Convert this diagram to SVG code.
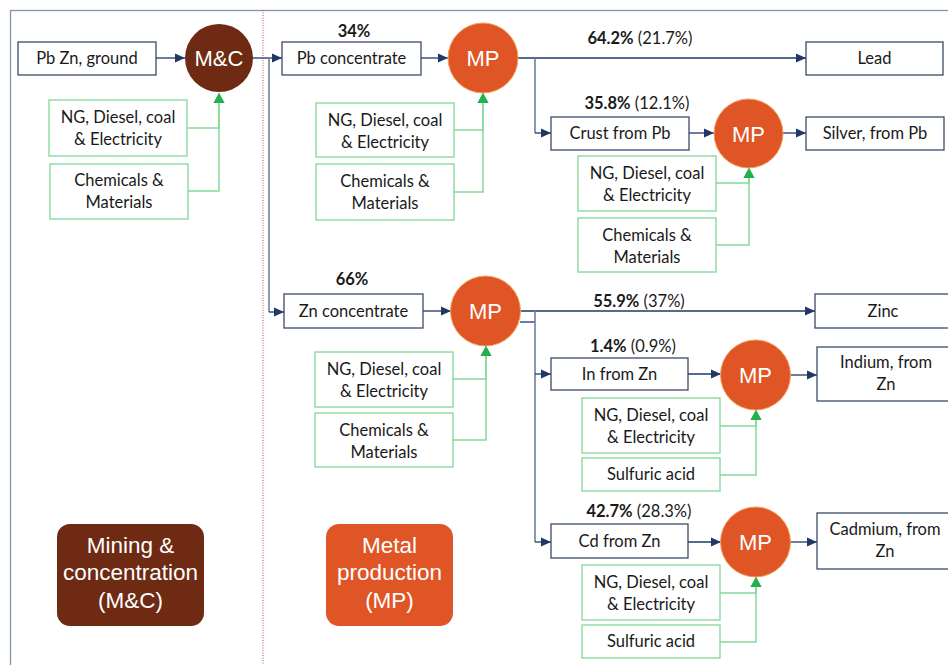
<svg xmlns="http://www.w3.org/2000/svg" width="948" height="665" viewBox="0 0 948 665">
<defs>
<marker id="an" markerUnits="userSpaceOnUse" markerWidth="11" markerHeight="10" refX="10" refY="5" orient="auto"><path d="M0,0.5 L10,5 L0,9.5 z" fill="#1f3864"/></marker>
<marker id="ag" markerUnits="userSpaceOnUse" markerWidth="11" markerHeight="12" refX="10" refY="6" orient="auto"><path d="M0,0.5 L10,6 L0,11.5 z" fill="#22b14c"/></marker>
<style>
.box{fill:#fff;stroke:#3a4a6b;stroke-width:1.3}
.gbox{fill:#fff;stroke:#82d696;stroke-width:1.3}
.t{font-family:Lato,"Open Sans",sans-serif;font-size:16.5px;fill:#1a1a1a;text-anchor:middle}
.b{font-weight:bold}
.ct{font-family:"Liberation Sans",Arial,sans-serif;font-size:22px;fill:#fff;text-anchor:middle}
.lt{font-family:"Liberation Sans",Arial,sans-serif;font-size:22.5px;fill:#fff;text-anchor:middle}
.mc{fill:#6e2a12}
.mp{fill:#e05526;stroke:#f3a15f;stroke-width:1}
.c{stroke:#1f3864;stroke-width:1.3;fill:none}
.cv{stroke:#6f82a3;stroke-width:1.6;fill:none}
.cg{stroke:#86d999;stroke-width:1.5;fill:none}
</style>
</defs>
<rect x="10.5" y="10.5" width="980" height="700" fill="none" stroke="#8497b0" stroke-width="1.3"/>
<line x1="263" y1="10" x2="263" y2="665" stroke="#c0504d" stroke-width="1" stroke-dasharray="1,1.5"/>

<g id="connectors">
<path class="c" d="M156,58 H185" marker-end="url(#an)"/>
<path class="c" d="M253,58 H282" marker-end="url(#an)"/>
<path class="cv" d="M269,58 V312"/>
<path class="c" d="M269,312 H284" marker-end="url(#an)"/>
<path class="c" d="M421,58 H448" marker-end="url(#an)"/>
<path class="c" d="M518,58 H806" marker-end="url(#an)"/>
<path class="cv" d="M535,58 V133"/>
<path class="c" d="M535,133 H551" marker-end="url(#an)"/>
<path class="c" d="M689,133 H714" marker-end="url(#an)"/>
<path class="c" d="M783,133 H806" marker-end="url(#an)"/>
<path class="c" d="M423,311 H451" marker-end="url(#an)"/>
<path class="c" d="M520,311 H815" marker-end="url(#an)"/>
<path class="c" d="M520,322 H535"/>
<path class="cv" d="M535,311 V542"/>
<path class="c" d="M535,374 H551" marker-end="url(#an)"/>
<path class="c" d="M535,542 H551" marker-end="url(#an)"/>
<path class="c" d="M688,374 H721" marker-end="url(#an)"/>
<path class="c" d="M790,375 H817" marker-end="url(#an)"/>
<path class="c" d="M688,542 H721" marker-end="url(#an)"/>
<path class="c" d="M790,542 H817" marker-end="url(#an)"/>
<path class="cg" d="M187,128 H219 V93" marker-end="url(#ag)"/>
<path class="cg" d="M188,191 H219 V93" marker-end="url(#ag)"/>
<path class="cg" d="M454,130 H483 V93" marker-end="url(#ag)"/>
<path class="cg" d="M454,192 H483 V93" marker-end="url(#ag)"/>
<path class="cg" d="M716,183 H749 V168" marker-end="url(#ag)"/>
<path class="cg" d="M716,245 H749 V168" marker-end="url(#ag)"/>
<path class="cg" d="M453,379 H486 V346" marker-end="url(#ag)"/>
<path class="cg" d="M453,440 H486 V346" marker-end="url(#ag)"/>
<path class="cg" d="M720,426 H756 V410" marker-end="url(#ag)"/>
<path class="cg" d="M720,475 H756 V410" marker-end="url(#ag)"/>
<path class="cg" d="M720,593 H756 V577" marker-end="url(#ag)"/>
<path class="cg" d="M720,642 H756 V577" marker-end="url(#ag)"/>
</g>

<g id="labels">
<text class="t b" x="354" y="37">34%</text>
<text class="t" x="640" y="44"><tspan class="b">64.2%</tspan> (21.7%)</text>
<text class="t" x="637" y="109"><tspan class="b">35.8%</tspan> (12.1%)</text>
<text class="t b" x="352" y="285">66%</text>
<text class="t" x="639" y="307"><tspan class="b">55.9%</tspan> (37%)</text>
<text class="t" x="633" y="352"><tspan class="b">1.4%</tspan> (0.9%)</text>
<text class="t" x="639" y="517"><tspan class="b">42.7%</tspan> (28.3%)</text>
</g>

<g id="pbzn_ground"><rect class="box" x="18" y="42" width="138" height="33"/><text class="t" x="87" y="64">Pb Zn, ground</text></g>
<g id="mc"><circle class="mc" cx="219" cy="58" r="34"/><text class="ct" x="219" y="66">M&amp;C</text></g>
<g id="mc_energy"><rect class="gbox" x="49" y="100" width="138" height="56"/><text class="t" x="118" y="123">NG, Diesel, coal</text><text class="t" x="118" y="145">&amp; Electricity</text></g>
<g id="mc_chem"><rect class="gbox" x="50" y="164" width="138" height="55"/><text class="t" x="119" y="186">Chemicals &amp;</text><text class="t" x="119" y="208">Materials</text></g>

<g id="pb_conc"><rect class="box" x="282" y="42" width="139" height="33"/><text class="t" x="351.5" y="64">Pb concentrate</text></g>
<g id="mp1"><circle class="mp" cx="483" cy="58" r="35"/><text class="ct" x="483" y="66">MP</text></g>
<g id="mp1_energy"><rect class="gbox" x="316" y="103" width="138" height="54"/><text class="t" x="385" y="126">NG, Diesel, coal</text><text class="t" x="385" y="148">&amp; Electricity</text></g>
<g id="mp1_chem"><rect class="gbox" x="316" y="164" width="138" height="56"/><text class="t" x="385" y="187">Chemicals &amp;</text><text class="t" x="385" y="209">Materials</text></g>
<g id="lead"><rect class="box" x="806" y="42" width="137" height="33"/><text class="t" x="874.5" y="64">Lead</text></g>
<g id="crust"><rect class="box" x="551" y="117" width="138" height="33"/><text class="t" x="620" y="139">Crust from Pb</text></g>
<g id="mp2"><circle class="mp" cx="748.5" cy="133.5" r="34.5"/><text class="ct" x="748.5" y="141.5">MP</text></g>
<g id="mp2_energy"><rect class="gbox" x="578" y="156" width="138" height="55"/><text class="t" x="647" y="179">NG, Diesel, coal</text><text class="t" x="647" y="201">&amp; Electricity</text></g>
<g id="mp2_chem"><rect class="gbox" x="578" y="218" width="138" height="54"/><text class="t" x="647" y="241">Chemicals &amp;</text><text class="t" x="647" y="263">Materials</text></g>
<g id="silver"><rect class="box" x="806" y="117" width="138" height="33"/><text class="t" x="875" y="139">Silver, from Pb</text></g>

<g id="zn_conc"><rect class="box" x="284" y="294" width="139" height="34"/><text class="t" x="353.5" y="317">Zn concentrate</text></g>
<g id="mp3"><circle class="mp" cx="485.5" cy="311" r="35"/><text class="ct" x="485.5" y="319">MP</text></g>
<g id="mp3_energy"><rect class="gbox" x="315" y="352" width="138" height="55"/><text class="t" x="384" y="375">NG, Diesel, coal</text><text class="t" x="384" y="397">&amp; Electricity</text></g>
<g id="mp3_chem"><rect class="gbox" x="315" y="413" width="138" height="54"/><text class="t" x="384" y="436">Chemicals &amp;</text><text class="t" x="384" y="458">Materials</text></g>
<g id="zinc"><rect class="box" x="815" y="294" width="150" height="34"/><text class="t" x="883" y="317">Zinc</text></g>
<g id="in_zn"><rect class="box" x="551" y="358" width="137" height="32"/><text class="t" x="619.5" y="380">In from Zn</text></g>
<g id="mp4"><circle class="mp" cx="755.5" cy="375" r="35"/><text class="ct" x="755.5" y="383">MP</text></g>
<g id="mp4_energy"><rect class="gbox" x="582" y="398" width="138" height="55"/><text class="t" x="651" y="421">NG, Diesel, coal</text><text class="t" x="651" y="443">&amp; Electricity</text></g>
<g id="mp4_acid"><rect class="gbox" x="582" y="458" width="138" height="33"/><text class="t" x="651" y="480">Sulfuric acid</text></g>
<g id="indium"><rect class="box" x="817" y="347" width="150" height="54"/><text class="t" x="886" y="368">Indium, from</text><text class="t" x="886" y="390">Zn</text></g>
<g id="cd_zn"><rect class="box" x="551" y="524" width="137" height="34"/><text class="t" x="619.5" y="547">Cd from Zn</text></g>
<g id="mp5"><circle class="mp" cx="755.5" cy="542" r="35"/><text class="ct" x="755.5" y="550">MP</text></g>
<g id="mp5_energy"><rect class="gbox" x="582" y="565" width="138" height="55"/><text class="t" x="651" y="588">NG, Diesel, coal</text><text class="t" x="651" y="610">&amp; Electricity</text></g>
<g id="mp5_acid"><rect class="gbox" x="582" y="625" width="138" height="33"/><text class="t" x="651" y="647">Sulfuric acid</text></g>
<g id="cadmium"><rect class="box" x="817" y="513" width="150" height="56"/><text class="t" x="885" y="535">Cadmium, from</text><text class="t" x="885" y="557">Zn</text></g>

<g id="legend_mc"><rect class="mc" x="57" y="524" width="147" height="102" rx="13"/><text class="lt" x="130.5" y="553">Mining &amp;</text><text class="lt" x="130.5" y="580">concentration</text><text class="lt" x="130.5" y="608">(M&amp;C)</text></g>
<g id="legend_mp"><rect x="326" y="524" width="127" height="102" rx="13" fill="#e05526"/><text class="lt" x="389.5" y="553">Metal</text><text class="lt" x="389.5" y="580">production</text><text class="lt" x="389.5" y="608">(MP)</text></g>
</svg>
